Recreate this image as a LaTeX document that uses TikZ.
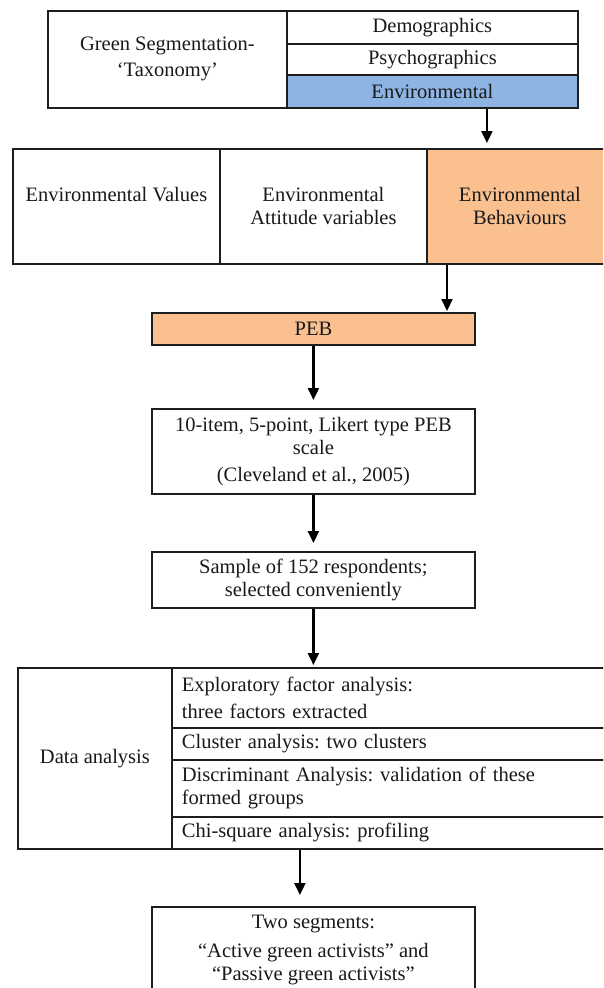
\documentclass[tikz,border=0pt]{standalone}
\usepackage{fontspec}
\setmainfont{Liberation Serif}
\usetikzlibrary{arrows.meta,calc}
\definecolor{cblue}{RGB}{142,180,227}
\definecolor{corange}{RGB}{250,192,144}
\definecolor{cline}{RGB}{30,30,30}
\definecolor{ctext}{RGB}{25,25,25}
\frenchspacing
\begin{document}
\begin{tikzpicture}[x=1pt,y=-1pt,
  cell/.style={draw=cline, line width=1.8pt, rectangle, inner sep=0pt, text=ctext,
    anchor=north west, align=center, font=\fontsize{20.5}{23}\selectfont\frenchspacing},
  lcell/.style={cell, align=left, inner xsep=10pt, text width=421pt, minimum width=441pt},
  arr/.style={-{Triangle[length=12pt,width=11pt]}, line width=2.2pt, draw=black}
]
\useasboundingbox (0,0) rectangle (603,988);
\clip (0,0) rectangle (603,988);

% top table
\node[cell, minimum width=239pt, minimum height=97pt] (gs) at (47,10) {Green Segmentation-\\[3pt]‘Taxonomy’};
\node[cell, minimum width=291pt, minimum height=33pt] (demo) at (286,10) {Demographics};
\node[cell, minimum width=291pt, minimum height=31pt] (psy) at (286,43) {Psychographics};
\node[cell, minimum width=291pt, minimum height=33pt, fill=cblue] (env) at (286,74) {Environmental};

% second row
\node[cell, minimum width=207pt, minimum height=115pt] (val) at (12,148) {Environmental Values\\\phantom{Behaviours}};
\node[cell, minimum width=207pt, minimum height=115pt] (att) at (219,148) {Environmental\\Attitude variables};
\node[cell, minimum width=186pt, minimum height=115pt, fill=corange] (beh) at (426,148) {Environmental\\Behaviours};

% chain
\node[cell, minimum width=323pt, minimum height=32pt, fill=corange] (peb) at (151,312) {PEB};
\node[cell, minimum width=323pt, minimum height=85pt] (item) at (151,408) {10-item, 5-point, Likert type PEB\\scale\\[4pt](Cleveland et al., 2005)};
\node[cell, minimum width=323pt, minimum height=56pt] (sample) at (151,551) {Sample of 152 respondents;\\selected conveniently};

% data analysis
\node[cell, minimum width=154pt, minimum height=181pt] (da) at (17,667) {Data analysis};
\node[lcell, minimum height=60pt] (r1) at (171,667) {Exploratory factor analysis:\\[4pt]three factors extracted};
\node[lcell, minimum height=32pt] (r2) at (171,727) {Cluster analysis: two clusters};
\node[lcell, minimum height=57pt] (r3) at (171,759) {Discriminant Analysis: validation of these\\formed groups};
\node[lcell, minimum height=32pt] (r4) at (171,816) {Chi-square analysis: profiling};

% result
\node[cell, minimum width=323pt, minimum height=86pt] (two) at (151,906) {Two segments:\\[6pt]“Active green activists” and\\“Passive green activists”};

% connectors
\draw[arr, shorten >=5pt] ([xshift=54.5pt]env.south) -- ([xshift=54.5pt]env.south |- beh.north);
\draw[arr, shorten >=1pt] ([xshift=21pt]beh.south west) -- ([xshift=21pt]beh.south west |- peb.north);
\draw[arr, shorten >=8pt] (peb.south) -- (item.north);
\draw[arr, shorten >=8pt] (item.south) -- (sample.north);
\draw[arr, shorten >=2pt] (sample.south) -- (sample.south |- r1.north);
\draw[arr, shorten >=11pt] ([xshift=-13.5pt]two.north |- r4.south) -- ([xshift=-13.5pt]two.north);
\end{tikzpicture}
\end{document}
